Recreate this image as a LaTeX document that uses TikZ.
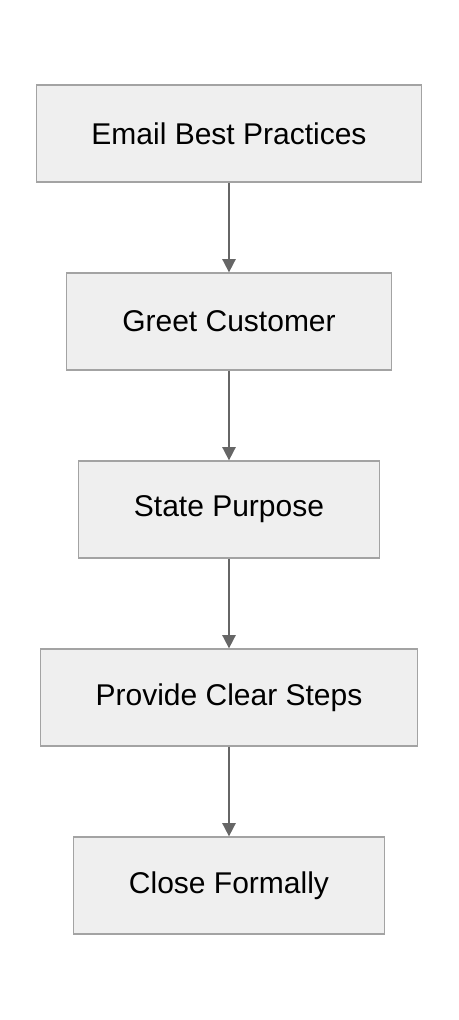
\documentclass[tikz,border=0pt]{standalone}
\usepackage{fontspec}
\setmainfont{Liberation Sans}
\usetikzlibrary{positioning,arrows.meta}
\definecolor{boxfill}{HTML}{EFEFEF}
\definecolor{boxline}{HTML}{A3A3A3}
\definecolor{flowline}{HTML}{666666}
\begin{document}
\begin{tikzpicture}[x=0.75pt,y=-0.75pt,node distance=67.3pt,
    every node/.style={font=\fontsize{22.5}{27}\selectfont},
    stepbox/.style={draw=boxline,fill=boxfill,line width=1.1pt,minimum height=72.6pt,inner xsep=0pt},
    flow/.style={draw=flowline,line width=1.3pt,-{Triangle[length=10pt,width=10pt]}}]
  \useasboundingbox (0,0) rectangle (458,1020);
  \node[stepbox,minimum width=289pt] (email) at (229,133.5) {Email Best Practices};
  \node[stepbox,minimum width=244pt,below=of email] (greet) {Greet Customer};
  \node[stepbox,minimum width=226pt,below=of greet] (purpose) {State Purpose};
  \node[stepbox,minimum width=283pt,below=of purpose] (steps) {Provide Clear Steps};
  \node[stepbox,minimum width=233.5pt,below=of steps] (close) {Close Formally};
  % connectors
  \draw[flow] (email) -- (greet);
  \draw[flow] (greet) -- (purpose);
  \draw[flow] (purpose) -- (steps);
  \draw[flow] (steps) -- (close);
\end{tikzpicture}
\end{document}
